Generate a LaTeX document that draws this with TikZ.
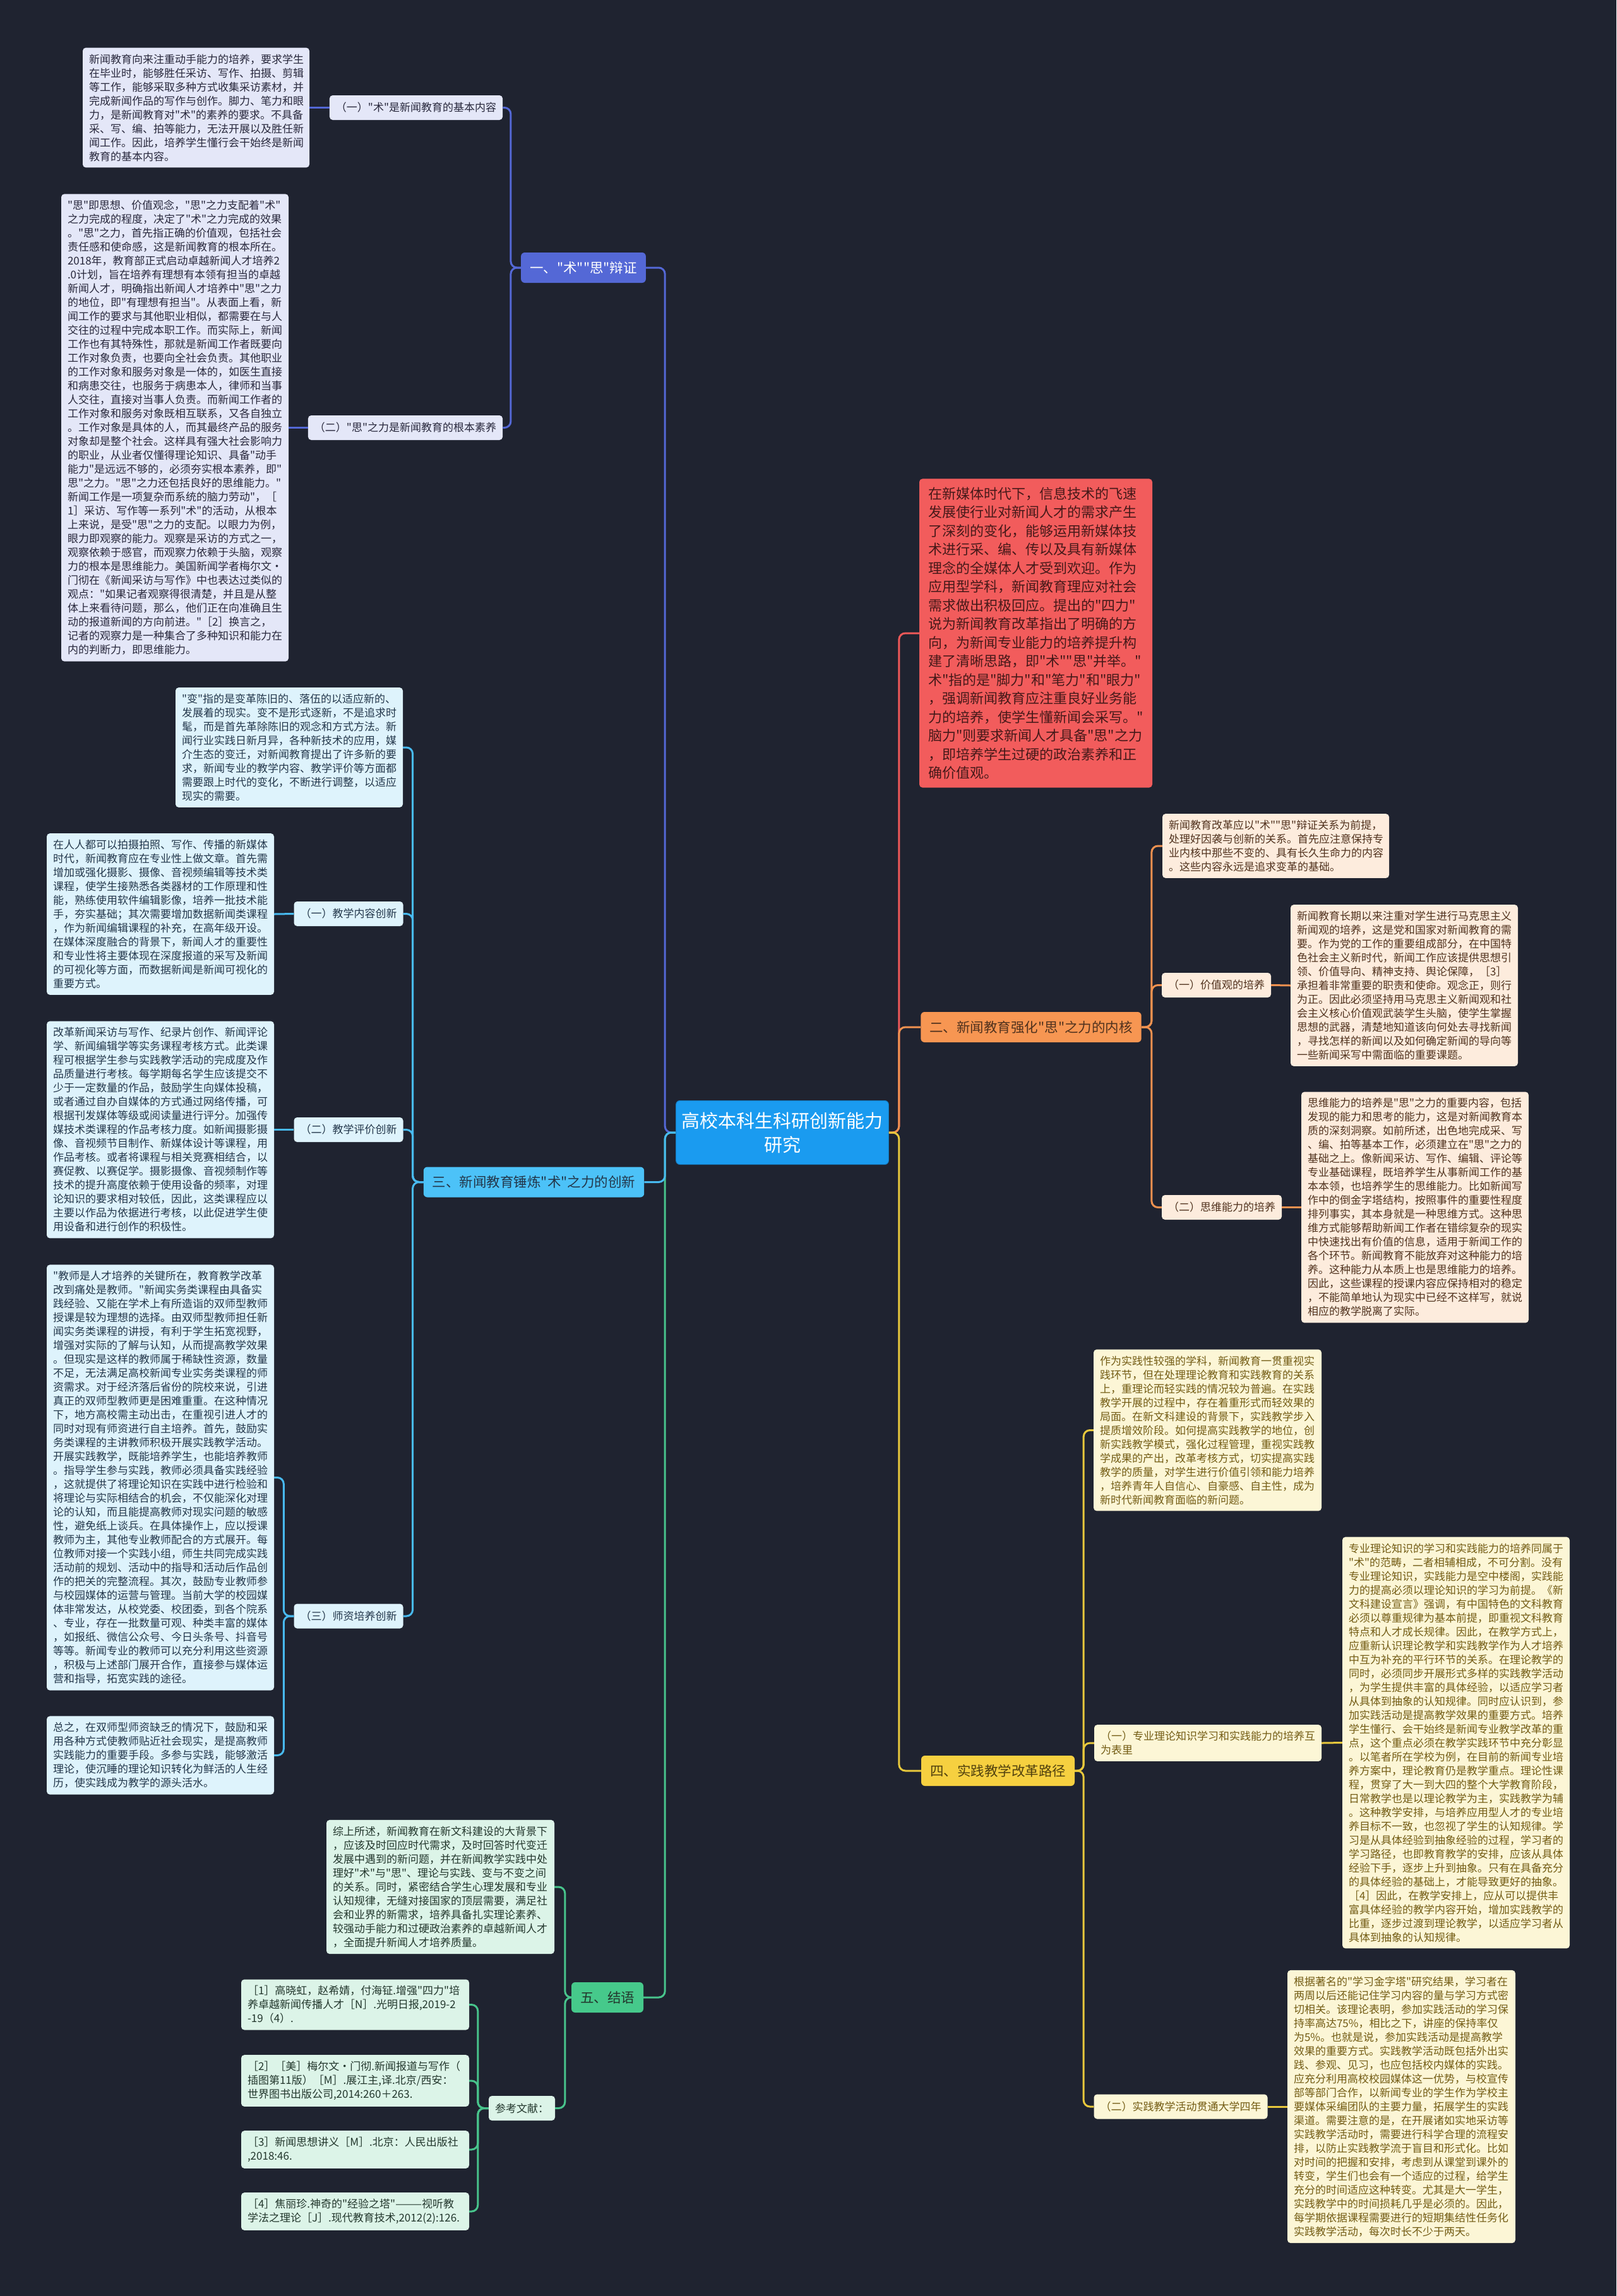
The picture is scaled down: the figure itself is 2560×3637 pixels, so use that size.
\documentclass[tikz,border=0pt]{standalone}
\usepackage{fontspec}
\newfontfamily\cjk{Noto Sans CJK SC}
\definecolor{bg}{RGB}{31,35,48}
\definecolor{cA}{RGB}{84,104,214}
\definecolor{fA}{RGB}{228,231,248}
\definecolor{tA}{RGB}{40,40,60}
\definecolor{cR}{RGB}{238,88,88}
\definecolor{fR}{RGB}{242,92,92}
\definecolor{tR}{RGB}{70,25,25}
\definecolor{cO}{RGB}{240,146,80}
\definecolor{nO}{RGB}{247,150,82}
\definecolor{fO}{RGB}{253,236,221}
\definecolor{tO}{RGB}{80,50,30}
\definecolor{cC}{RGB}{72,186,240}
\definecolor{nC}{RGB}{76,194,248}
\definecolor{fC}{RGB}{222,243,252}
\definecolor{tC}{RGB}{35,55,75}
\definecolor{cY}{RGB}{232,200,60}
\definecolor{nY}{RGB}{246,208,64}
\definecolor{fY}{RGB}{252,246,214}
\definecolor{tY}{RGB}{115,92,20}
\definecolor{cG}{RGB}{72,196,140}
\definecolor{nG}{RGB}{70,201,139}
\definecolor{fG}{RGB}{220,244,232}
\definecolor{tG}{RGB}{35,55,45}
\definecolor{cCt}{RGB}{26,155,240}
\tikzset{
  base/.style={rounded corners=5pt, inner xsep=10pt, inner ysep=10pt, align=left, text width=340pt, font=\cjk\fontsize{17}{22}\selectfont},
  blkA/.style={base, fill=fA, text=tA},
  blkO/.style={base, fill=fO, text=tO},
  blkC/.style={base, fill=fC, text=tC},
  blkY/.style={base, fill=fY, text=tY},
  blkG/.style={base, fill=fG, text=tG},
  blkR/.style={base, fill=fR, text=tR, text width=341pt, inner xsep=14pt, inner ysep=13pt, font=\cjk\fontsize{22}{29.5}\selectfont},
  lbl/.style={rounded corners=5pt, inner xsep=10pt, inner ysep=4pt, minimum height=39pt, font=\cjk\fontsize{17}{22}\selectfont},
  lblA/.style={lbl, fill=fA, text=tA},
  lblO/.style={lbl, fill=fO, text=tO},
  lblC/.style={lbl, fill=fC, text=tC},
  lblY/.style={lbl, fill=fY, text=tY},
  lblG/.style={lbl, fill=fG, text=tG},
  lvl/.style={rounded corners=6pt, inner xsep=14pt, inner ysep=4pt, minimum height=48pt, font=\cjk\fontsize{21.5}{26}\selectfont},
  ctr/.style={rounded corners=6pt, fill=cCt, draw=cCt!80!black, line width=1pt, text=white, align=center, text width=330pt, inner ysep=18pt, font=\cjk\fontsize{29}{38}\selectfont},
  conn/.style={line width=3pt, rounded corners=10pt},
}
\begin{document}
\begin{tikzpicture}[x=1pt,y=-1pt]
\fill[bg] (0,0) rectangle (2560,3637);
\useasboundingbox (0,0) rectangle (2560,3637);

% central
\node[ctr] (ct) at (1239,1794) {高校本科生科研创新能力\\研究};

% ===== branch 1
\node[lvl, fill=cA, text=white] (n1) at (924,424) {一、"术""思"辩证};
\node[lblA] (l1a) at (659,170.5) {（一）"术"是新闻教育的基本内容};
\node[lblA] (l1b) at (642,677.5) {（二）"思"之力是新闻教育的根本素养};
\node[blkA, text width=339pt] (A1) at (310.5,170.5) {新闻教育向来注重动手能力的培养，要求学生\\在毕业时，能够胜任采访、写作、拍摄、剪辑\\等工作，能够采取多种方式收集采访素材，并\\完成新闻作品的写作与创作。脚力、笔力和眼\\力，是新闻教育对"术"的素养的要求。不具备\\采、写、编、拍等能力，无法开展以及胜任新\\闻工作。因此，培养学生懂行会干始终是新闻\\教育的基本内容。};
\node[blkA] (A2) at (277,677.5) {"思"即思想、价值观念，"思"之力支配着"术"\\之力完成的程度，决定了"术"之力完成的效果\\。"思"之力，首先指正确的价值观，包括社会\\责任感和使命感，这是新闻教育的根本所在。\\2018年，教育部正式启动卓越新闻人才培养2\\.0计划，旨在培养有理想有本领有担当的卓越\\新闻人才，明确指出新闻人才培养中"思"之力\\的地位，即"有理想有担当"。从表面上看，新\\闻工作的要求与其他职业相似，都需要在与人\\交往的过程中完成本职工作。而实际上，新闻\\工作也有其特殊性，那就是新闻工作者既要向\\工作对象负责，也要向全社会负责。其他职业\\的工作对象和服务对象是一体的，如医生直接\\和病患交往，也服务于病患本人，律师和当事\\人交往，直接对当事人负责。而新闻工作者的\\工作对象和服务对象既相互联系，又各自独立\\。工作对象是具体的人，而其最终产品的服务\\对象却是整个社会。这样具有强大社会影响力\\的职业，从业者仅懂得理论知识、具备"动手\\能力"是远远不够的，必须夯实根本素养，即"\\思"之力。"思"之力还包括良好的思维能力。"\\新闻工作是一项复杂而系统的脑力劳动"，［\\1］采访、写作等一系列"术"的活动，从根本\\上来说，是受"思"之力的支配。以眼力为例，\\眼力即观察的能力。观察是采访的方式之一，\\观察依赖于感官，而观察力依赖于头脑，观察\\力的根本是思维能力。美国新闻学者梅尔文·\\门彻在《新闻采访与写作》中也表达过类似的\\观点："如果记者观察得很清楚，并且是从整\\体上来看待问题，那么，他们正在向准确且生\\动的报道新闻的方向前进。"［2］换言之，\\记者的观察力是一种集合了多种知识和能力在\\内的判断力，即思维能力。};

% ===== red block
\node[blkR] (R) at (1640.5,1003) {在新媒体时代下，信息技术的飞速\\发展使行业对新闻人才的需求产生\\了深刻的变化，能够运用新媒体技\\术进行采、编、传以及具有新媒体\\理念的全媒体人才受到欢迎。作为\\应用型学科，新闻教育理应对社会\\需求做出积极回应。提出的"四力"\\说为新闻教育改革指出了明确的方\\向，为新闻专业能力的培养提升构\\建了清晰思路，即"术""思"并举。"\\术"指的是"脚力"和"笔力"和"眼力"\\，强调新闻教育应注重良好业务能\\力的培养，使学生懂新闻会采写。"\\脑力"则要求新闻人才具备"思"之力\\，即培养学生过硬的政治素养和正\\确价值观。};

% ===== branch 2
\node[lvl, fill=nO, text=tO] (n2) at (1633,1627) {二、新闻教育强化"思"之力的内核};
\node[blkO, text width=339pt] (B0) at (2020.5,1340) {新闻教育改革应以"术""思"辩证关系为前提，\\处理好因袭与创新的关系。首先应注意保持专\\业内核中那些不变的、具有长久生命力的内容\\。这些内容永远是追求变革的基础。};
\node[lblO] (l2a) at (1926.5,1560.5) {（一）价值观的培养};
\node[blkO] (O1) at (2224,1561) {新闻教育长期以来注重对学生进行马克思主义\\新闻观的培养，这是党和国家对新闻教育的需\\要。作为党的工作的重要组成部分，在中国特\\色社会主义新时代，新闻工作应该提供思想引\\领、价值导向、精神支持、舆论保障，［3］\\承担着非常重要的职责和使命。观念正，则行\\为正。因此必须坚持用马克思主义新闻观和社\\会主义核心价值观武装学生头脑，使学生掌握\\思想的武器，清楚地知道该向何处去寻找新闻\\，寻找怎样的新闻以及如何确定新闻的导向等\\一些新闻采写中需面临的重要课题。};
\node[lblO] (l2b) at (1935,1912.5) {（二）思维能力的培养};
\node[blkO] (O2) at (2241,1912.5) {思维能力的培养是"思"之力的重要内容，包括\\发现的能力和思考的能力，这是对新闻教育本\\质的深刻洞察。如前所述，出色地完成采、写\\、编、拍等基本工作，必须建立在"思"之力的\\基础之上。像新闻采访、写作、编辑、评论等\\专业基础课程，既培养学生从事新闻工作的基\\本本领，也培养学生的思维能力。比如新闻写\\作中的倒金字塔结构，按照事件的重要性程度\\排列事实，其本身就是一种思维方式。这种思\\维方式能够帮助新闻工作者在错综复杂的现实\\中快速找出有价值的信息，适用于新闻工作的\\各个环节。新闻教育不能放弃对这种能力的培\\养。这种能力从本质上也是思维能力的培养。\\因此，这些课程的授课内容应保持相对的稳定\\，不能简单地认为现实中已经不这样写，就说\\相应的教学脱离了实际。};

% ===== branch 3
\node[lvl, fill=nC, text=tC] (n3) at (845.5,1872.5) {三、新闻教育锤炼"术"之力的创新};
\node[blkC] (C0) at (458,1184) {"变"指的是变革陈旧的、落伍的以适应新的、\\发展着的现实。变不是形式逐新，不是追求时\\髦，而是首先革除陈旧的观念和方式方法。新\\闻行业实践日新月异，各种新技术的应用，媒\\介生态的变迁，对新闻教育提出了许多新的要\\求，新闻专业的教学内容、教学评价等方面都\\需要跟上时代的变化，不断进行调整，以适应\\现实的需要。};
\node[lblC] (l3a) at (552,1447.5) {（一）教学内容创新};
\node[blkC] (C1) at (254,1448) {在人人都可以拍摄拍照、写作、传播的新媒体\\时代，新闻教育应在专业性上做文章。首先需\\增加或强化摄影、摄像、音视频编辑等技术类\\课程，使学生接熟悉各类器材的工作原理和性\\能，熟练使用软件编辑影像，培养一批技术能\\手，夯实基础；其次需要增加数据新闻类课程\\，作为新闻编辑课程的补充，在高年级开设。\\在媒体深度融合的背景下，新闻人才的重要性\\和专业性将主要体现在深度报道的采写及新闻\\的可视化等方面，而数据新闻是新闻可视化的\\重要方式。};
\node[lblC] (l3b) at (552,1789.5) {（二）教学评价创新};
\node[blkC] (C2) at (254,1789.5) {改革新闻采访与写作、纪录片创作、新闻评论\\学、新闻编辑学等实务课程考核方式。此类课\\程可根据学生参与实践教学活动的完成度及作\\品质量进行考核。每学期每名学生应该提交不\\少于一定数量的作品，鼓励学生向媒体投稿，\\或者通过自办自媒体的方式通过网络传播，可\\根据刊发媒体等级或阅读量进行评分。加强传\\媒技术类课程的作品考核力度。如新闻摄影摄\\像、音视频节目制作、新媒体设计等课程，用\\作品考核。或者将课程与相关竞赛相结合，以\\赛促教、以赛促学。摄影摄像、音视频制作等\\技术的提升高度依赖于使用设备的频率，对理\\论知识的要求相对较低，因此，这类课程应以\\主要以作品为依据进行考核，以此促进学生使\\用设备和进行创作的积极性。};
\node[lblC] (l3c) at (552,2560) {（三）师资培养创新};
\node[blkC] (C3) at (254,2340.5) {"教师是人才培养的关键所在，教育教学改革\\改到痛处是教师。"新闻实务类课程由具备实\\践经验、又能在学术上有所造诣的双师型教师\\授课是较为理想的选择。由双师型教师担任新\\闻实务类课程的讲授，有利于学生拓宽视野，\\增强对实际的了解与认知，从而提高教学效果\\。但现实是这样的教师属于稀缺性资源，数量\\不足，无法满足高校新闻专业实务类课程的师\\资需求。对于经济落后省份的院校来说，引进\\真正的双师型教师更是困难重重。在这种情况\\下，地方高校需主动出击，在重视引进人才的\\同时对现有师资进行自主培养。首先，鼓励实\\务类课程的主讲教师积极开展实践教学活动。\\开展实践教学，既能培养学生，也能培养教师\\。指导学生参与实践，教师必须具备实践经验\\，这就提供了将理论知识在实践中进行检验和\\将理论与实际相结合的机会，不仅能深化对理\\论的认知，而且能提高教师对现实问题的敏感\\性，避免纸上谈兵。在具体操作上，应以授课\\教师为主，其他专业教师配合的方式展开。每\\位教师对接一个实践小组，师生共同完成实践\\活动前的规划、活动中的指导和活动后作品创\\作的把关的完整流程。其次，鼓励专业教师参\\与校园媒体的运营与管理。当前大学的校园媒\\体非常发达，从校党委、校团委，到各个院系\\、专业，存在一批数量可观、种类丰富的媒体\\，如报纸、微信公众号、今日头条号、抖音号\\等等。新闻专业的教师可以充分利用这些资源\\，积极与上述部门展开合作，直接参与媒体运\\营和指导，拓宽实践的途径。};
\node[blkC] (C4) at (254,2780.5) {总之，在双师型师资缺乏的情况下，鼓励和采\\用各种方式使教师贴近社会现实，是提高教师\\实践能力的重要手段。多参与实践，能够激活\\理论，使沉睡的理论知识转化为鲜活的人生经\\历，使实践成为教学的源头活水。};

% ===== branch 4
\node[lvl, fill=nY, text=tY!70!black] (n4) at (1580.5,2805) {四、实践教学改革路径};
\node[blkY, text width=341pt] (Y0) at (1912.5,2265.5) {作为实践性较强的学科，新闻教育一贯重视实\\践环节，但在处理理论教育和实践教育的关系\\上，重理论而轻实践的情况较为普遍。在实践\\教学开展的过程中，存在着重形式而轻效果的\\局面。在新文科建设的背景下，实践教学步入\\提质增效阶段。如何提高实践教学的地位，创\\新实践教学模式，强化过程管理，重视实践教\\学成果的产出，改革考核方式，切实提高实践\\教学的质量，对学生进行价值引领和能力培养\\，培养青年人自信心、自豪感、自主性，成为\\新时代新闻教育面临的新问题。};
\node[blkY] (l4a) at (1913,2761) {（一）专业理论知识学习和实践能力的培养互\\为表里};
\node[blkY] (Y1) at (2306,2760.5) {专业理论知识的学习和实践能力的培养同属于\\"术"的范畴，二者相辅相成，不可分割。没有\\专业理论知识，实践能力是空中楼阁，实践能\\力的提高必须以理论知识的学习为前提。《新\\文科建设宣言》强调，有中国特色的文科教育\\必须以尊重规律为基本前提，即重视文科教育\\特点和人才成长规律。因此，在教学方式上，\\应重新认识理论教学和实践教学作为人才培养\\中互为补充的平行环节的关系。在理论教学的\\同时，必须同步开展形式多样的实践教学活动\\，为学生提供丰富的具体经验，以适应学习者\\从具体到抽象的认知规律。同时应认识到，参\\加实践活动是提高教学效果的重要方式。培养\\学生懂行、会干始终是新闻专业教学改革的重\\点，这个重点必须在教学实践环节中充分彰显\\。以笔者所在学校为例，在目前的新闻专业培\\养方案中，理论教育仍是教学重点。理论性课\\程，贯穿了大一到大四的整个大学教育阶段，\\日常教学也是以理论教学为主，实践教学为辅\\。这种教学安排，与培养应用型人才的专业培\\养目标不一致，也忽视了学生的认知规律。学\\习是从具体经验到抽象经验的过程，学习者的\\学习路径，也即教育教学的安排，应该从具体\\经验下手，逐步上升到抽象。只有在具备充分\\的具体经验的基础上，才能导致更好的抽象。\\［4］因此，在教学安排上，应从可以提供丰\\富具体经验的教学内容开始，增加实践教学的\\比重，逐步过渡到理论教学，以适应学习者从\\具体到抽象的认知规律。};
\node[lblY] (l4b) at (1870,3337) {（二）实践教学活动贯通大学四年};
\node[blkY, text width=341pt] (Y2) at (2219.5,3337) {根据著名的"学习金字塔"研究结果，学习者在\\两周以后还能记住学习内容的量与学习方式密\\切相关。该理论表明，参加实践活动的学习保\\持率高达75\%，相比之下，讲座的保持率仅\\为5\%。也就是说，参加实践活动是提高教学\\效果的重要方式。实践教学活动既包括外出实\\践、参观、见习，也应包括校内媒体的实践。\\应充分利用高校校园媒体这一优势，与校宣传\\部等部门合作，以新闻专业的学生作为学校主\\要媒体采编团队的主要力量，拓展学生的实践\\渠道。需要注意的是，在开展诸如实地采访等\\实践教学活动时，需要进行科学合理的流程安\\排，以防止实践教学流于盲目和形式化。比如\\对时间的把握和安排，考虑到从课堂到课外的\\转变，学生们也会有一个适应的过程，给学生\\充分的时间适应这种转变。尤其是大一学生，\\实践教学中的时间损耗几乎是必须的。因此，\\每学期依据课程需要进行的短期集结性任务化\\实践教学活动，每次时长不少于两天。};

% ===== branch 5
\node[lvl, fill=nG, text=tG] (n5) at (962,3164) {五、结语};
\node[blkG, text width=341pt] (G0) at (697.5,2989) {综上所述，新闻教育在新文科建设的大背景下\\，应该及时回应时代需求，及时回答时代变迁\\发展中遇到的新问题，并在新闻教学实践中处\\理好"术"与"思"、理论与实践、变与不变之间\\的关系。同时，紧密结合学生心理发展和专业\\认知规律，无缝对接国家的顶层需要，满足社\\会和业界的新需求，培养具备扎实理论素养、\\较强动手能力和过硬政治素养的卓越新闻人才\\，全面提升新闻人才培养质量。};
\node[lblG] (l5) at (826.5,3339.5) {参考文献：};
\node[blkG, text width=341pt] (r1) at (562.5,3175.5) {［1］高晓虹，赵希婧，付海钲.增强"四力"培\\养卓越新闻传播人才［N］.光明日报,2019-2\\-19（4）.};
\node[blkG, text width=341pt] (r2) at (562.5,3296) {［2］［美］梅尔文·门彻.新闻报道与写作（\\插图第11版）［M］.展江主,译.北京/西安：\\世界图书出版公司,2014:260＋263.};
\node[blkG, text width=341pt] (r3) at (562.5,3405) {［3］新闻思想讲义［M］.北京：人民出版社\\,2018:46.};
\node[blkG, text width=341pt] (r4) at (562.5,3503) {［4］焦丽珍.神奇的"经验之塔"———视听教\\学法之理论［J］.现代教育技术,2012(2):126.};

% ===== connectors
\draw[conn, cA] (ct.west) -- ++(-17,0) |- (n1.east);
\draw[conn, cG] (ct.west) -- ++(-17,0) |- (n5.east);
\draw[conn, cC] (ct.west) -- ++(-17,0) |- (n3.east);
\draw[conn, cR] (ct.east) -- ++(16,0) |- (R.west);
\draw[conn, cO] (ct.east) -- ++(16,0) |- (n2.west);
\draw[conn, cY] (ct.east) -- ++(16,0) |- (n4.west);

\draw[conn, cA] (n1.west) -- ++(-16,0) |- (l1a.east);
\draw[conn, cA] (n1.west) -- ++(-16,0) |- (l1b.east);
\draw[conn, cA] (l1a.west) -- (A1.east);
\draw[conn, cA] (l1b.west) -- (A2.east);

\draw[conn, cO] (n2.east) -- ++(16,0) |- (B0.west);
\draw[conn, cO] (n2.east) -- ++(16,0) |- (l2a.west);
\draw[conn, cO] (n2.east) -- ++(16,0) |- (l2b.west);
\draw[conn, cO] (l2a.east) -- (O1.west);
\draw[conn, cO] (l2b.east) -- (O2.west);

\draw[conn, cC] (n3.west) -- ++(-17,0) |- (C0.east);
\draw[conn, cC] (n3.west) -- ++(-17,0) |- (l3a.east);
\draw[conn, cC] (n3.west) -- ++(-17,0) |- (l3b.east);
\draw[conn, cC] (n3.west) -- ++(-17,0) |- (l3c.east);
\draw[conn, cC] (l3a.west) -- (C1.east);
\draw[conn, cC] (l3b.west) -- (C2.east);
\draw[conn, cC] (l3c.west) -- ++(-16,0) |- (C3.east);
\draw[conn, cC] (l3c.west) -- ++(-16,0) |- (C4.east);

\draw[conn, cY] (n4.east) -- ++(14,0) |- (Y0.west);
\draw[conn, cY] (n4.east) -- ++(14,0) |- (l4a.west);
\draw[conn, cY] (n4.east) -- ++(14,0) |- (l4b.west);
\draw[conn, cY] (l4a.east) -- (Y1.west);
\draw[conn, cY] (l4b.east) -- (Y2.west);

\draw[conn, cG] (n5.west) -- ++(-10,0) |- (G0.east);
\draw[conn, cG] (n5.west) -- ++(-10,0) |- (l5.east);
\draw[conn, cG] (l5.west) -- ++(-17,0) |- (r1.east);
\draw[conn, cG] (l5.west) -- ++(-17,0) |- (r2.east);
\draw[conn, cG] (l5.west) -- ++(-17,0) |- (r3.east);
\draw[conn, cG] (l5.west) -- ++(-17,0) |- (r4.east);
\end{tikzpicture}
\end{document}
